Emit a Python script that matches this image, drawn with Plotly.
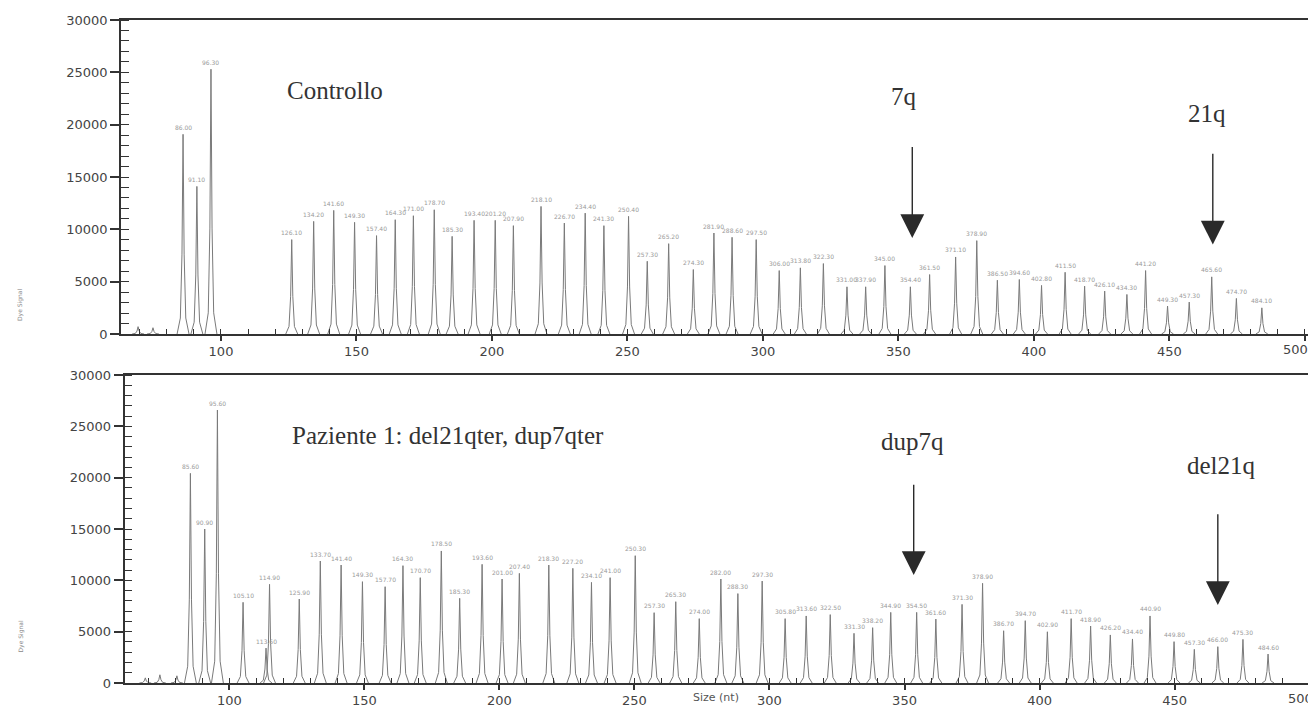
import plotly.graph_objects as go

# ---------------- data ----------------
ctrl_size = [69.4, 74.9, 86.0, 91.1, 96.3, 126.1, 134.2, 141.6, 149.3, 157.4, 164.3, 171.0, 178.7,
             185.3, 193.4, 201.2, 207.9, 218.1, 226.7, 234.4, 241.3, 250.4, 257.3, 265.2, 274.3,
             281.9, 288.6, 297.5, 306.0, 313.8, 322.3, 331.0, 337.9, 345.0, 354.4, 361.5, 371.1,
             378.9, 386.5, 394.6, 402.8, 411.5, 418.7, 426.1, 434.3, 441.2, 449.3, 457.3, 465.6,
             474.7, 484.1]
ctrl_signal = [700, 600, 19080, 14100, 25300, 9020, 10760, 11810, 10670, 9400, 10920, 11300, 11870,
               9330, 10860, 10860, 10350, 12190, 10600, 11550, 10350, 11240, 6950, 8630, 6160,
               9650, 9240, 9020, 6060, 6320, 6730, 4510, 4510, 6540, 4510, 5680, 7360,
               8920, 5140, 5210, 4640, 5900, 4570, 4100, 3780, 6060, 2670, 3050, 5460,
               3400, 2500]

pat_size = [68.9, 74.3, 80.6, 85.6, 90.9, 95.6, 105.1, 113.6, 114.9, 125.9, 133.7, 141.4, 149.3,
            157.7, 164.3, 170.7, 178.5, 185.3, 193.6, 201.0, 207.4, 218.3, 227.2, 234.1, 241.0,
            250.3, 257.3, 265.3, 274.0, 282.0, 288.3, 297.3, 305.8, 313.6, 322.5, 331.3, 338.2,
            344.9, 354.5, 361.6, 371.3, 378.9, 386.7, 394.7, 402.9, 411.7, 418.9, 426.2, 434.4,
            440.9, 449.8, 457.3, 466.0, 475.3, 484.6]
pat_signal = [500, 800, 700, 20420, 15000, 26590, 7860, 3400, 9610, 8180, 11880, 11490, 9870,
              9380, 11430, 10260, 12860, 8250, 11560, 10130, 10680, 11490, 11170, 9800, 10260,
              12400, 6850, 7920, 6270, 10130, 8710, 9930, 6270, 6530, 6660, 4840, 5390,
              6880, 6880, 6230, 7660, 9710, 5090, 6070, 4990, 6270, 5550, 4680, 4290,
              6530, 4030, 3280, 3540, 4250, 2820]

panel_titles = ["Controllo", "Paziente 1: del21qter, dup7qter"]
title_pos_x = [123.6, 122.6]
title_pos_y = [23300, 24150]

ctrl_arrow_text = ["7q", "21q"]
ctrl_arrow_x = [355.1, 466.0]
ctrl_arrow_from = [18000, 17360]
ctrl_arrow_to = [9170, 8540]
ctrl_text_x = [351.9, 463.9]
ctrl_text_y = [22700, 21100]

pat_arrow_text = ["dup7q", "del21q"]
pat_arrow_x = [353.4, 466.0]
pat_arrow_from = [19450, 16590]
pat_arrow_to = [10520, 7600]
pat_text_x = [352.8, 467.2]
pat_text_y = [23500, 21140]

x_ticks = [100, 150, 200, 250, 300, 350, 400, 450, 500]
y_ticks = [0, 5000, 10000, 15000, 20000, 25000, 30000]

# ---------------- style ----------------
# peak outline profile: offsets (nt) and fraction of peak height
PEAK_DX = [-2.2, -1.0, -0.4, 0.0, 0.4, 1.0, 2.2]
PEAK_FR = [0.0, 0.08, 0.4, 1.0, 0.4, 0.08, 0.0]
AXIS_COLOR = "#333333"
TRACE_COLOR = "#7a7a7a"
SERIF = "Liberation Serif, Times New Roman, serif"
SANS = "DejaVu Sans, sans-serif"
TICK_FONT = dict(family=SANS, size=13, color="#444")
W, H = 1316, 707
OX, OY = 8, 8  # page body margin compensation


def peak_path(sizes, signals):
    xs, ys = [], []
    for s, h in zip(sizes, signals):
        xs += [s + d for d in PEAK_DX] + [None]
        ys += [h * f for f in PEAK_FR] + [None]
    return xs, ys


fig = go.Figure()
cx, cy = peak_path(ctrl_size, ctrl_signal)
px_, py_ = peak_path(pat_size, pat_signal)
fig.add_trace(go.Scatter(x=cx, y=cy, mode="lines", line=dict(color=TRACE_COLOR, width=1),
                         xaxis="x", yaxis="y", showlegend=False, hoverinfo="skip"))
fig.add_trace(go.Scatter(x=px_, y=py_, mode="lines", line=dict(color=TRACE_COLOR, width=1),
                         xaxis="x2", yaxis="y2", showlegend=False, hoverinfo="skip"))

# the last tick label sits at the page edge; it is drawn as an annotation nudged inwards
x_ticktext = [str(v) for v in x_ticks[:-1]] + [""]


def xaxis_cfg(left_px, right_px, rng, anchor):
    return dict(
        domain=[(left_px - OX) / W, (right_px - OX) / W], range=rng, anchor=anchor,
        tickvals=x_ticks, ticktext=x_ticktext,
        ticks="outside", ticklen=5, tickwidth=1.5, tickcolor=AXIS_COLOR,
        minor=dict(dtick=10, tick0=0, ticks="inside", ticklen=5, tickwidth=1, tickcolor=AXIS_COLOR),
        showline=True, linecolor=AXIS_COLOR, linewidth=1.5, mirror=True,
        showgrid=False, zeroline=False, automargin=False,
        tickfont=TICK_FONT,
    )


def yaxis_cfg(top_px, bottom_px, anchor):
    return dict(
        domain=[1 - (bottom_px - OY) / H, 1 - (top_px - OY) / H], range=[0, 30000], anchor=anchor,
        tickvals=y_ticks, ticktext=[str(v) for v in y_ticks],
        ticks="outside", ticklen=9, tickwidth=1.5, tickcolor=AXIS_COLOR,
        minor=dict(dtick=1000, tick0=0, ticks="inside", ticklen=8, tickwidth=1, tickcolor=AXIS_COLOR),
        showline=True, linecolor=AXIS_COLOR, linewidth=1.5, mirror=True,
        showgrid=False, zeroline=False, automargin=False,
        tickfont=TICK_FONT,
    )


annotations = []

# peak size labels
for xref, yref, sizes, signals in [("x", "y", ctrl_size, ctrl_signal), ("x2", "y2", pat_size, pat_signal)]:
    for s, h in zip(sizes, signals):
        if h < 1500:
            continue
        annotations.append(dict(x=s, y=h, xref=xref, yref=yref, text=f"{s:.2f}", showarrow=False,
                                yshift=7, font=dict(family=SANS, size=6, color="#9a9a9a")))

# last x tick label of each panel
for xref, yref in [("x", "y"), ("x2", "y2")]:
    annotations.append(dict(x=x_ticks[-1], y=0, xref=xref, yref=yref, text=str(x_ticks[-1]),
                            showarrow=False, xanchor="center", yanchor="top", xshift=-9, yshift=-6,
                            font=TICK_FONT))

# panel titles
for i, (xref, yref) in enumerate([("x", "y"), ("x2", "y2")]):
    annotations.append(dict(x=title_pos_x[i], y=title_pos_y[i], xref=xref, yref=yref, text=panel_titles[i],
                            showarrow=False, xanchor="left", yanchor="middle",
                            font=dict(family=SERIF, size=25, color="#333")))

# arrows and labels
for xref, yref, texts, axs, froms, tos, tx, ty in [
    ("x", "y", ctrl_arrow_text, ctrl_arrow_x, ctrl_arrow_from, ctrl_arrow_to, ctrl_text_x, ctrl_text_y),
    ("x2", "y2", pat_arrow_text, pat_arrow_x, pat_arrow_from, pat_arrow_to, pat_text_x, pat_text_y),
]:
    for t, ax_, f, to, x_t, y_t in zip(texts, axs, froms, tos, tx, ty):
        annotations.append(dict(x=ax_, y=to, xref=xref, yref=yref, ax=ax_, ay=f, axref=xref, ayref=yref,
                                text="", showarrow=True, arrowhead=2, arrowsize=3.4, arrowwidth=1.4,
                                arrowcolor="#2a2a2a"))
        annotations.append(dict(x=x_t, y=y_t, xref=xref, yref=yref, text=t, showarrow=False,
                                xanchor="center", yanchor="middle",
                                font=dict(family=SERIF, size=25, color="#333")))

# axis titles
for yc in [305, 655]:
    annotations.append(dict(x=(14 - OX) / W, y=1 - (yc - OY) / H, xref="paper", yref="paper",
                            text="Dye Signal", textangle=-90, showarrow=False,
                            font=dict(family=SANS, size=6, color="#888")))
annotations.append(dict(x=(716 - OX) / W, y=1 - (706 - OY) / H, xref="paper", yref="paper",
                        text="Size (nt)", showarrow=False, yanchor="bottom",
                        font=dict(family=SANS, size=11, color="#555")))

fig.update_layout(
    width=W, height=H,
    margin=dict(l=0, r=0, t=0, b=0, autoexpand=False),
    paper_bgcolor="white", plot_bgcolor="white",
    xaxis=xaxis_cfg(121, 1309, [63.1, 501.5], "y"),
    yaxis=yaxis_cfg(20, 334, "x"),
    xaxis2=xaxis_cfg(124.5, 1311, [61.2, 500.5], "y2"),
    yaxis2=yaxis_cfg(375, 683, "x2"),
    annotations=annotations,
    showlegend=False,
)

fig.write_html("out.html")
